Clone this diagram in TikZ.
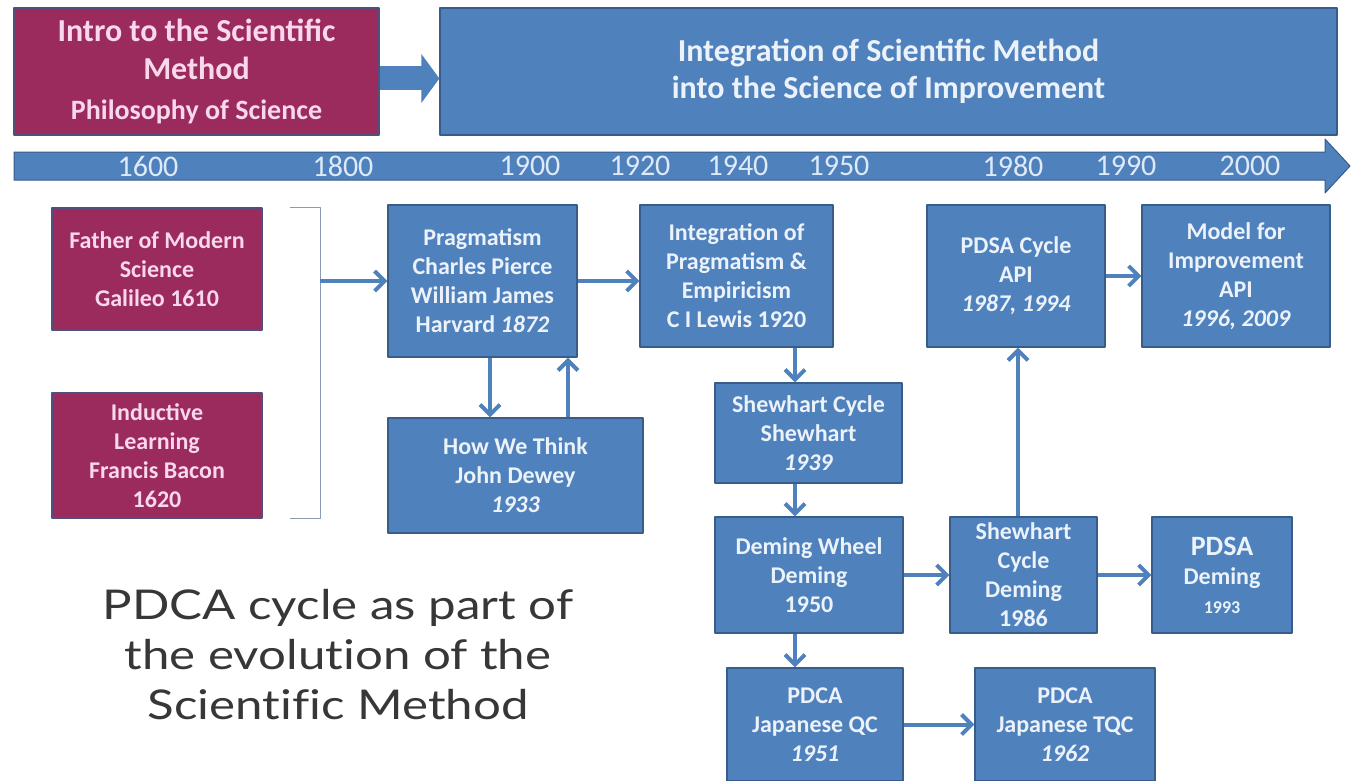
\documentclass[tikz,border=0pt]{standalone}
\usepackage{fontspec}
\setmainfont{Carlito}
\newfontfamily\capfont{Lato}[FakeStretch=1.2, Ligatures=CommonOff]
\usetikzlibrary{arrows.meta}
\definecolor{boxblue}{RGB}{79,129,189}
\definecolor{boxedge}{RGB}{56,93,138}
\definecolor{boxtext}{RGB}{236,242,250}
\definecolor{boxred}{RGB}{155,43,92}
\definecolor{rededge}{RGB}{80,80,125}
\definecolor{redtext}{RGB}{248,216,234}
\definecolor{yeartext}{RGB}{222,234,248}
\definecolor{brkgray}{RGB}{140,155,180}
\definecolor{capgray}{RGB}{55,55,55}
\begin{document}
\begin{tikzpicture}[x=1pt, y=-1pt, line join=round, >={Straight Barb[length=10pt,width=20pt]},
  bluebox/.style={draw=boxedge, fill=boxblue, line width=1.2pt, text=boxtext, align=center, inner sep=0pt,
    font=\bfseries\fontsize{24}{29}\selectfont},
  redbox/.style={bluebox, draw=rededge, fill=boxred, text=redtext},
  conn/.style={->, draw=boxblue, line width=4pt},
  yearlbl/.style={text=yeartext, font=\fontsize{30}{30}\selectfont}]
\fill[white] (0,0) rectangle (1351,781);
\useasboundingbox (0,0) rectangle (1351,781);
% top bands
\node[redbox, minimum width=365pt, minimum height=127pt, font=\bfseries\fontsize{32}{38}\selectfont] (intro) at (196.5,71.5)
  {Intro to the Scientific\\Method\\[2pt]{\fontsize{28}{34}\selectfont Philosophy of Science}};
\node[bluebox, minimum width=897pt, minimum height=127pt, font=\bfseries\fontsize{32}{37}\selectfont] (integ) at (888.5,71.5)
  {Integration of Scientific Method\\into the Science of Improvement};
\draw[line width=24pt, boxblue, -{Triangle[length=18pt,width=48pt]}] ([yshift=-7pt]intro.east) -- ([yshift=-7pt]integ.west);
% timeline
\filldraw[fill=boxblue, draw=boxedge, line width=1pt] (14,152) -- (1325,152) -- (1325,139) -- (1350,166)
  -- (1325,193) -- (1325,180) -- (14,180) -- cycle;
\foreach \yr/\x in {1600/148, 1800/343, 1900/530, 1920/640, 1940/738, 1950/839, 1980/1013, 1990/1126, 2000/1250}
  \node[yearlbl] (y\yr) at (\x,166) {\yr};
% early science
\node[redbox, minimum width=210pt, minimum height=122pt] (father) at (157,269) {Father of Modern\\Science\\Galileo 1610};
\node[redbox, minimum width=210pt, minimum height=125pt] (induct) at (157,455.5) {Inductive\\Learning\\Francis Bacon\\1620};
\draw[brkgray, line width=1pt] (290,207) -- (320,207) -- (320,518) -- (290,518);
\coordinate (brk) at (320,281);
% improvement chain
\node[bluebox, minimum width=189pt, minimum height=152pt] (pragm) at (482.5,281) {Pragmatism\\Charles Pierce\\William James\\Harvard \textit{1872}};
\node[bluebox, minimum width=255pt, minimum height=115pt] (think) at (515.5,475.5) {How We Think\\John Dewey\\\textit{1933}};
\node[bluebox, minimum width=193pt, minimum height=142pt] (intprag) at (736.5,276) {Integration of\\Pragmatism \&\\Empiricism\\C I Lewis 1920};
\node[bluebox, minimum width=187pt, minimum height=100pt] (shew) at (808.5,433) {Shewhart Cycle\\Shewhart\\\textit{1939}};
\node[bluebox, minimum width=188pt, minimum height=116pt] (deming) at (809,575) {Deming Wheel\\Deming\\1950};
\node[bluebox, minimum width=147pt, minimum height=116pt] (shewdem) at (1023.5,575) {Shewhart\\Cycle\\Deming\\1986};
\node[bluebox, minimum width=178pt, minimum height=142pt] (pdsaapi) at (1016,276) {PDSA Cycle\\API\\\textit{1987, 1994}};
\node[bluebox, minimum width=188pt, minimum height=142pt] (model) at (1236,276) {Model for\\Improvement\\API\\\textit{1996, 2009}};
\node[bluebox, minimum width=140pt, minimum height=116pt] (pdsadem) at (1222,575)
  {{\fontsize{28}{32}\selectfont PDSA}\\Deming\\{\fontsize{18}{22}\selectfont 1993}};
\node[bluebox, minimum width=176pt, minimum height=113pt] (pdcaqc) at (815,724.5) {PDCA\\Japanese QC\\\textit{1951}};
\node[bluebox, minimum width=180pt, minimum height=113pt] (pdcatqc) at (1065,724.5) {PDCA\\Japanese TQC\\\textit{1962}};
\draw[conn] (brk) -- (pragm.west);
\draw[conn] (pragm.east) -- (pragm.east -| intprag.west);
\draw[conn] ([xshift=7.5pt]pragm.south) -- ([xshift=7.5pt]pragm.south |- think.north);
\draw[conn] ([xshift=52.5pt]think.north) -- ([xshift=52.5pt]think.north |- pragm.south);
\draw[conn] ([xshift=58.5pt]intprag.south) -- ([xshift=58.5pt]intprag.south |- shew.north);
\draw[conn] ([xshift=-13.5pt]shew.south) -- ([xshift=-13.5pt]shew.south |- deming.north);
\draw[conn] (deming.east) -- (shewdem.west);
\draw[conn] ([xshift=-5.5pt]shewdem.north) -- ([xshift=-5.5pt]shewdem.north |- pdsaapi.south);
\draw[conn] (pdsaapi.east) -- (model.west);
\draw[conn] (shewdem.east) -- (pdsadem.west);
\draw[conn] ([xshift=-14pt]deming.south) -- ([xshift=-14pt]deming.south |- pdcaqc.north);
\draw[conn] (pdcaqc.east) -- (pdcatqc.west);
% caption
\node[align=center, text=capgray, font=\capfont\fontsize{41}{50}\selectfont] (caption) at (338,655)
  {PDCA cycle as part of\\the evolution of the\\Scientific Method};
\end{tikzpicture}
\end{document}
